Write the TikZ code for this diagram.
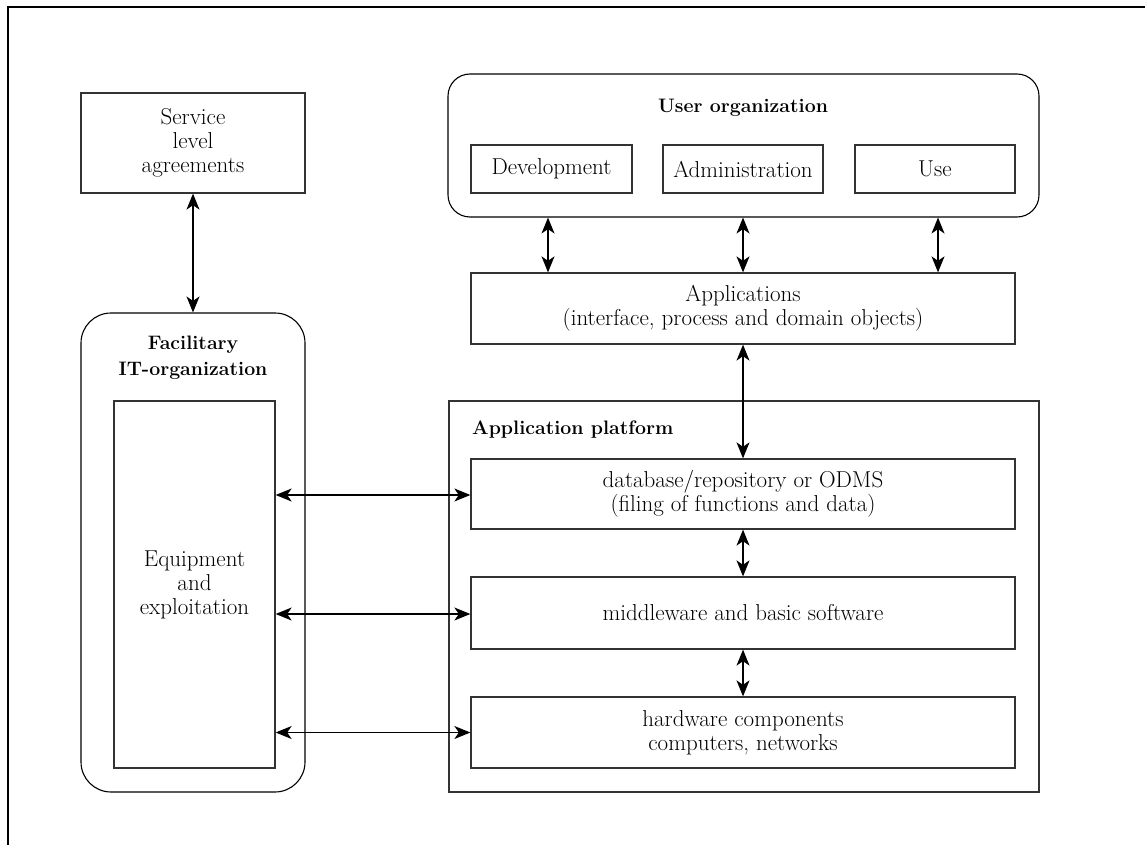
\documentclass[tikz,border=0pt]{standalone}
\usetikzlibrary{arrows.meta}
\begin{document}
\begin{tikzpicture}[x=1pt,y=-1pt,
  txt/.style={font=\fontsize{23}{24}\selectfont, align=center, inner sep=0pt},
  head/.style={font=\fontsize{19.5}{26}\selectfont\bfseries, align=center, inner sep=0pt},
  box/.style={draw=black!80, line width=1.3pt, inner sep=0pt, txt},
  group/.style={draw=black, line width=1.1pt, inner sep=0pt},
  arr/.style={line width=1.1pt,
    {Stealth[length=16pt,width=13pt,inset=4.5pt]}-{Stealth[length=16pt,width=13pt,inset=4.5pt]}}
]
\useasboundingbox (0,0) rectangle (1145,845);

% outer frame (top and left edges)
\draw[line width=2pt, line join=miter] (8.3,845) -- (8.3,7) -- (1145,7);

% left column
\node[box, minimum width=224pt, minimum height=100pt] (sla) at (193,143)
  {Service\\level\\agreements};
\node[group, rounded corners=30pt, minimum width=224pt, minimum height=479pt] (fac) at (193,552.5) {};
\node[head] (factitle) at (193,358) {Facilitary\\IT-organization};
\node[box, minimum width=161pt, minimum height=367pt] (eq) at (194.5,584.5)
  {Equipment\\and\\exploitation};

% user organization
\node[group, rounded corners=22pt, minimum width=591pt, minimum height=143pt] (uo) at (743.5,145.5) {};
\node[head, anchor=base] (uotitle) at (743,113) {User organization};
\node[box, minimum width=161pt, minimum height=48pt] (dev) at (551.5,169) {Development};
\node[box, minimum width=160pt, minimum height=48pt] (adm) at (743,169) {Administration};
\node[box, minimum width=160pt, minimum height=48pt] (use) at (935,169) {Use};

% applications
\node[box, minimum width=544pt, minimum height=71pt] (app) at (743,308.5)
  {Applications\\(interface, process and domain objects)};

% application platform
\node[box, minimum width=590pt, minimum height=391pt] (ap) at (744,596.5) {};
\node[head, anchor=base west] (aptitle) at (472,434) {Application platform};
\node[box, minimum width=544pt, minimum height=70pt] (db) at (743,494)
  {database/repository or ODMS\\(filing of functions and data)};
\node[box, minimum width=544pt, minimum height=72pt] (mw) at (743,613)
  {middleware and basic software};
\node[box, minimum width=544pt, minimum height=71pt] (hw) at (743,732.5)
  {hardware components\\computers, networks};

% connectors
\draw[arr] (sla.south) -- (fac.north);
\draw[arr] ([xshift=-195pt]app.north |- uo.south) -- ([xshift=-195pt]app.north);
\draw[arr] (app.north |- uo.south) -- (app.north);
\draw[arr] ([xshift=195pt]app.north |- uo.south) -- ([xshift=195pt]app.north);
\draw[arr] (app.south) -- (db.north);
\draw[arr] (db.south) -- (mw.north);
\draw[arr] (mw.south) -- (hw.north);
\draw[arr] ([yshift=-1pt]db.west -| eq.east) -- ([yshift=-1pt]db.west);
\draw[arr] ([yshift=-1pt]mw.west -| eq.east) -- ([yshift=-1pt]mw.west);
\draw[arr] (hw.west -| eq.east) -- (hw.west);
\end{tikzpicture}
\end{document}
